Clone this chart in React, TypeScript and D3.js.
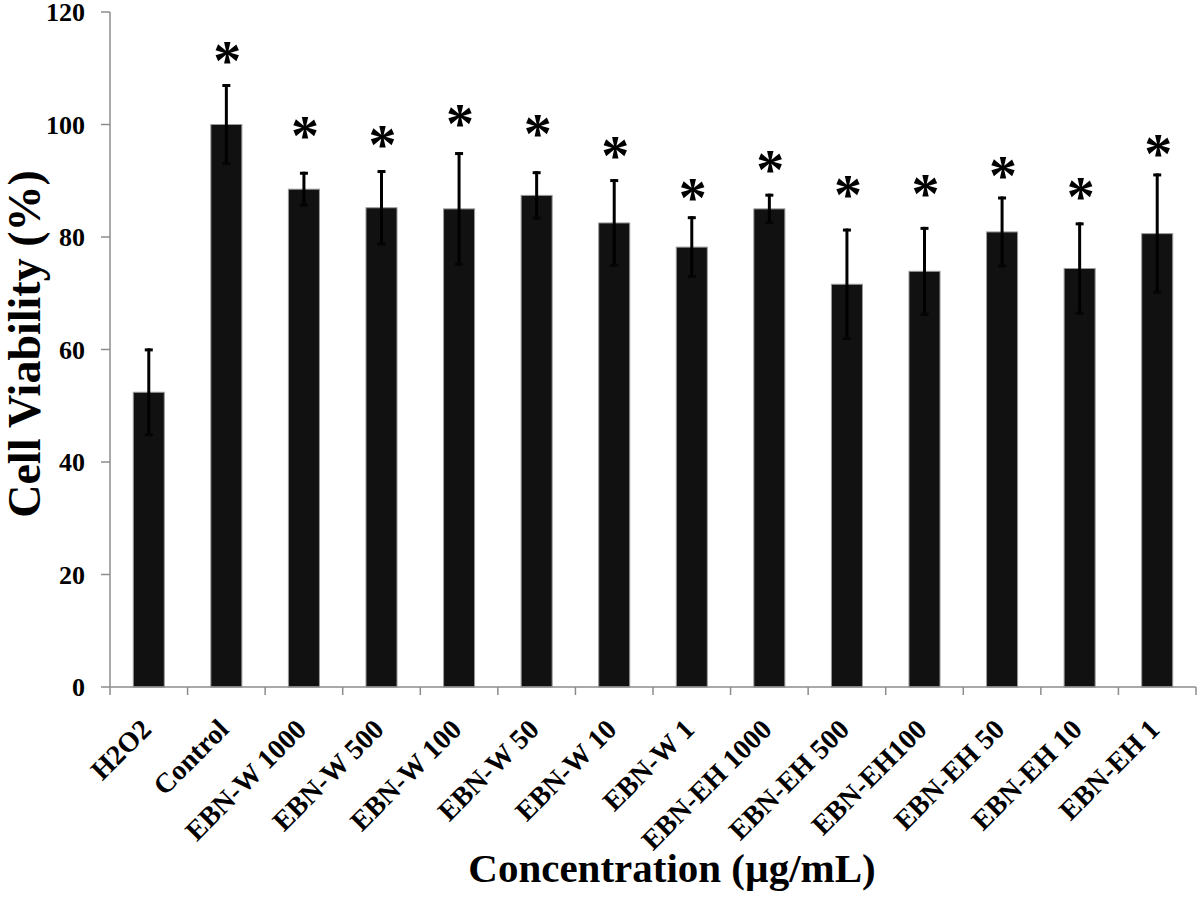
import React from "react";
import * as d3 from "d3";

const categories = [
  "H2O2", "Control", "EBN-W 1000", "EBN-W 500", "EBN-W 100", "EBN-W 50", "EBN-W 10",
  "EBN-W 1", "EBN-EH 1000", "EBN-EH 500", "EBN-EH100", "EBN-EH 50", "EBN-EH 10", "EBN-EH 1",
];
const means = [52.4, 100, 88.5, 85.2, 85.0, 87.4, 82.5, 78.2, 85.0, 71.6, 73.9, 80.9, 74.4, 80.6];
const errors = [7.8, 7.2, 3.1, 6.7, 10.1, 4.3, 7.8, 5.5, 2.7, 9.9, 7.9, 6.3, 8.2, 10.7];
// value (in % units) at which each significance asterisk sits; null = none
const asteriskAt: (number | null)[] = [null, 112.4, 99.0, 97.4, 101.2, 99.4, 95.5, 88.1, 93.0, 88.5, 88.7, 91.9, 88.2, 95.9];
const yTicks = [0, 20, 40, 60, 80, 100, 120];

const W = 1200;
const H = 901;
const margin = { left: 110, right: 4, top: 12, bottom: 214 };
const FONT = "'Liberation Serif', 'Times New Roman', serif";
const AST = 56;

export default function App() {
  const x = d3
    .scaleBand<string>()
    .domain(categories)
    .range([margin.left, W - margin.right])
    .paddingInner(0.6)
    .paddingOuter(0.3);
  const step = x.step();
  const y = d3.scaleLinear().domain([0, 120]).range([H - margin.bottom, margin.top]);
  const axisColor = "#8c8c8c";
  const y0 = y(0);

  const boundaries = d3.range(categories.length + 1).map((i) => margin.left + i * step);

  return (
    <svg width={W} height={H} style={{ position: "absolute", left: 0, top: 0, background: "#fff" }}>
      <rect x={0} y={0} width={W} height={H} fill="#fff" />
      {/* y axis */}
      <line x1={margin.left} x2={margin.left} y1={y(120)} y2={y0} stroke={axisColor} strokeWidth={1.5} />
      {yTicks.map((t) => (
        <g key={t}>
          <line x1={margin.left - 9} x2={margin.left} y1={y(t)} y2={y(t)} stroke={axisColor} strokeWidth={1.5} />
          <text
            x={margin.left - 25}
            y={y(t)}
            dy="0.35em"
            textAnchor="end"
            fontFamily={FONT}
            fontWeight="bold"
            fontSize={26}
            fill="#000"
          >
            {t}
          </text>
        </g>
      ))}
      {/* bars */}
      {categories.map((c, i) => {
        const bx = x(c)!;
        const bw = x.bandwidth();
        const cx = bx + bw / 2;
        const top = y(means[i]);
        return (
          <g key={c}>
            <rect x={bx} y={top} width={bw} height={y0 - top} fill="#111" stroke="#9a9a9a" strokeWidth={1} />
            <line x1={cx} x2={cx} y1={y(means[i] + errors[i])} y2={y(means[i] - errors[i])} stroke="#000" strokeWidth={3} />
            <line x1={cx - 4} x2={cx + 4} y1={y(means[i] + errors[i]) + 1.5} y2={y(means[i] + errors[i]) + 1.5} stroke="#000" strokeWidth={3} />
            <line x1={cx - 4} x2={cx + 4} y1={y(means[i] - errors[i]) - 1.5} y2={y(means[i] - errors[i]) - 1.5} stroke="#050505" strokeWidth={3} />
            {asteriskAt[i] !== null && (
              <text
                x={cx + 1}
                y={y(asteriskAt[i] as number) + 0.45 * AST}
                textAnchor="middle"
                fontFamily={FONT}
                fontWeight="bold"
                fontSize={AST}
                fill="#000"
              >
                *
              </text>
            )}
          </g>
        );
      })}
      {/* x axis */}
      <line x1={margin.left} x2={W - margin.right} y1={y0} y2={y0} stroke={axisColor} strokeWidth={1.5} />
      {boundaries.map((bx, i) => (
        <line key={i} x1={bx} x2={bx} y1={y0} y2={y0 + 8} stroke={axisColor} strokeWidth={1.5} />
      ))}
      {categories.map((c) => {
        const cx = x(c)! + x.bandwidth() / 2 + 4;
        const ty = y0 + 44;
        return (
          <text
            key={c}
            transform={`translate(${cx},${ty}) rotate(-45)`}
            textAnchor="end"
            fontFamily={FONT}
            fontWeight="bold"
            fontSize={28}
            fill="#000"
          >
            {c}
          </text>
        );
      })}
      {/* axis titles */}
      <text
        x={672}
        y={882}
        textAnchor="middle"
        fontFamily={FONT}
        fontWeight="bold"
        fontSize={41}
        fill="#000"
      >
        Concentration (µg/mL)
      </text>
      <text
        transform={`translate(40,344) rotate(-90)`}
        textAnchor="middle"
        fontFamily={FONT}
        fontWeight="bold"
        fontSize={46}
        fill="#000"
      >
        Cell Viability (%)
      </text>
    </svg>
  );
}
